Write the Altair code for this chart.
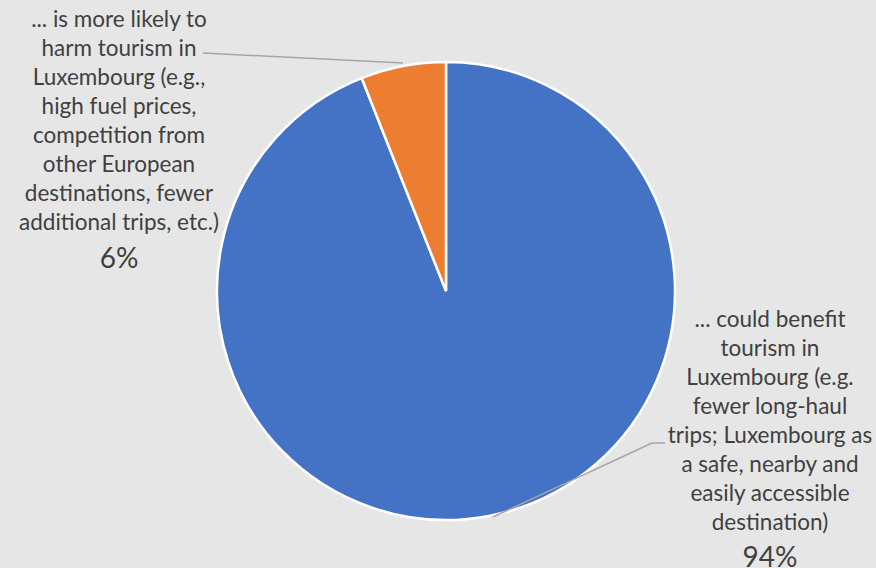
import altair as alt
import pandas as pd

categories = [
    "... could benefit tourism in Luxembourg (e.g. fewer long-haul trips; Luxembourg as a safe, nearby and easily accessible destination)",
    "... is more likely to harm tourism in Luxembourg (e.g., high fuel prices, competition from other European destinations, fewer additional trips, etc.)",
]
shares = [94, 6]
pct_labels = ["94%", "6%"]
colors = ["#4472C4", "#ED7D31"]

right_lines = ["... could benefit", "tourism in", "Luxembourg (e.g.", "fewer long-haul",
               "trips; Luxembourg as", "a safe, nearby and", "easily accessible", "destination)"]
left_lines = ["... is more likely to", "harm tourism in", "Luxembourg (e.g.,", "high fuel prices,",
              "competition from", "other European", "destinations, fewer", "additional trips, etc.)"]

df = pd.DataFrame({"category": categories, "share": shares, "order": [0, 1]})

W, H = 876, 568
CX, CY, R = 446, 291, 229
FONT = "Lato"
TXT = "#404040"
FS = 22.5

pie = alt.Chart(df).mark_arc(radius=R, stroke="white", strokeWidth=2.5).encode(
    theta=alt.Theta("share:Q", stack=True),
    color=alt.Color("category:N", scale=alt.Scale(domain=categories, range=colors), legend=None),
    order=alt.Order("order:Q"),
    x=alt.value(CX),
    y=alt.value(CY),
)

base = alt.Chart(pd.DataFrame({"a": [0]}))

left_text = base.mark_text(font=FONT, fontSize=FS, color=TXT, align="center", baseline="alphabetic",
                           lineHeight=29, text=left_lines).encode(x=alt.value(119), y=alt.value(27))
left_pct = base.mark_text(font=FONT, fontSize=28, color=TXT, align="center", baseline="alphabetic",
                          text=pct_labels[1]).encode(x=alt.value(119), y=alt.value(268))
right_text = base.mark_text(font=FONT, fontSize=FS, color=TXT, align="center", baseline="alphabetic",
                            lineHeight=29, text=right_lines).encode(x=alt.value(770), y=alt.value(327))
right_pct = base.mark_text(font=FONT, fontSize=28, color=TXT, align="center", baseline="alphabetic",
                           text=pct_labels[0]).encode(x=alt.value(770), y=alt.value(567))

rule_style = dict(color="#A6A6A6", strokeWidth=1.5)
lead1 = base.mark_rule(**rule_style).encode(x=alt.value(203), y=alt.value(53), x2=alt.value(403), y2=alt.value(63))
lead2a = base.mark_rule(**rule_style).encode(x=alt.value(665), y=alt.value(443), x2=alt.value(652), y2=alt.value(443))
lead2b = base.mark_rule(**rule_style).encode(x=alt.value(652), y=alt.value(443), x2=alt.value(493), y2=alt.value(517))

chart = alt.layer(pie, lead1, lead2a, lead2b, left_text, left_pct, right_text, right_pct).properties(
    width=W, height=H, padding=0, autosize=alt.AutoSizeParams(type="none"),
    background="#E7E6E6",
).configure_view(stroke=None)

chart.save("out.html", embed_options={"renderer": "svg", "actions": False})
